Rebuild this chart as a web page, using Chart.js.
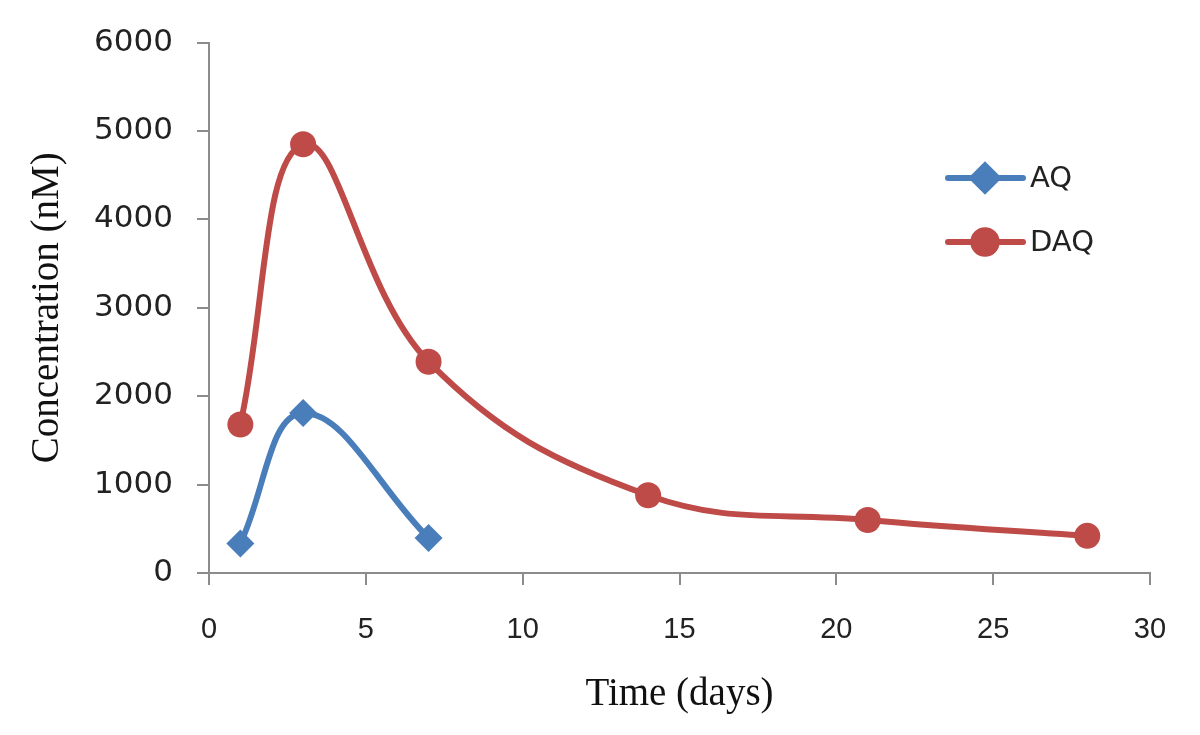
<!DOCTYPE html>
<html>
<head>
<meta charset="utf-8">
<script src="https://cdn.jsdelivr.net/npm/chart.js@4/dist/chart.umd.min.js"></script>
<style>
  body { margin: 0; background: #fff; }
  #wrap { width: 1200px; height: 735px; }
</style>
</head>
<body>
<div id="wrap"><canvas id="myChart" width="1200" height="735"></canvas></div>
<script>
// values
const aqDays = [1, 3, 7];
const aqConc = [335, 1810, 395];
const daqDays = [1, 3, 7, 14, 21, 28];
const daqConc = [1680, 4850, 2390, 880, 600, 420];
const seriesNames = ["AQ", "DAQ"];

const blue = "#4A7EBB";
const red = "#BE4B48";
const axisGray = "#8c8c8c";

function pairs(xs, ys) {
  return xs.map((x, i) => ({ x: x, y: ys[i] }));
}

// legend drawn inside the plot, like the original
const insideLegend = {
  id: "insideLegend",
  afterDraw(chart) {
    const c = chart.ctx;
    const rows = [178, 242];
    chart.data.datasets.forEach((ds, i) => {
      const y = rows[i];
      c.save();
      c.strokeStyle = ds.borderColor;
      c.lineWidth = ds.borderWidth;
      c.lineCap = "round";
      c.beginPath();
      c.moveTo(948, y);
      c.lineTo(1023, y);
      c.stroke();
      Chart.helpers.drawPoint(c, {
        pointStyle: ds.pointStyle,
        radius: ds.pointRadius * 0.9,
        borderWidth: 1
      }, 985, y);
      c.fillStyle = ds.backgroundColor;
      c.fill();
      c.fillStyle = "#222";
      c.font = "29px 'DejaVu Sans'";
      c.textBaseline = "middle";
      c.fillText(ds.label, 1030, y + 1);
      c.restore();
    });
  }
};

const ctx = document.getElementById("myChart").getContext("2d");
const myChart = new Chart(ctx, {
  type: "line",
  data: {
    datasets: [
      {
        label: seriesNames[0],
        data: pairs(aqDays, aqConc),
        borderColor: blue,
        backgroundColor: blue,
        borderWidth: 6,
        pointStyle: "rectRot",
        pointRadius: 14,
        pointBorderWidth: 0,
        tension: 0.4
      },
      {
        label: seriesNames[1],
        data: pairs(daqDays, daqConc),
        borderColor: red,
        backgroundColor: red,
        borderWidth: 6,
        pointStyle: "circle",
        pointRadius: 13,
        pointBorderWidth: 0,
        tension: 0.4
      }
    ]
  },
  options: {
    responsive: false,
    animation: false,
    layout: { padding: { left: 0, top: 40, right: 50, bottom: 0 } },
    plugins: {
      legend: { display: false },
      tooltip: { enabled: false }
    },
    scales: {
      x: {
        type: "linear",
        min: 0,
        max: 30,
        afterFit(scale) { scale.height = 162; },
        ticks: {
          stepSize: 5,
          color: "#222",
          padding: 28,
          font: { family: "'Liberation Sans'", size: 29 },
          callback: (v) => String(v)
        },
        grid: {
          drawOnChartArea: false,
          drawTicks: true,
          tickLength: 12,
          color: axisGray,
          lineWidth: 2
        },
        border: { color: axisGray, width: 2 },
        title: {
          display: true,
          text: "Time (days)",
          color: "#111",
          padding: { top: 17, bottom: 17 },
          font: { family: "'Liberation Serif'", size: 39 }
        }
      },
      y: {
        min: 0,
        max: 6000,
        afterFit(scale) { scale.width = 209; },
        ticks: {
          stepSize: 1000,
          color: "#222",
          padding: 24,
          font: { family: "'DejaVu Sans'", size: 31 },
          callback: (v) => String(v)
        },
        grid: {
          drawOnChartArea: false,
          drawTicks: true,
          tickLength: 12,
          color: axisGray,
          lineWidth: 2
        },
        border: { color: axisGray, width: 2 },
        title: {
          display: true,
          text: "Concentration (nM)",
          color: "#111",
          padding: { top: 24, bottom: 24 },
          font: { family: "'Liberation Serif'", size: 39 }
        }
      }
    }
  },
  plugins: [insideLegend]
});
</script>
</body>
</html>
